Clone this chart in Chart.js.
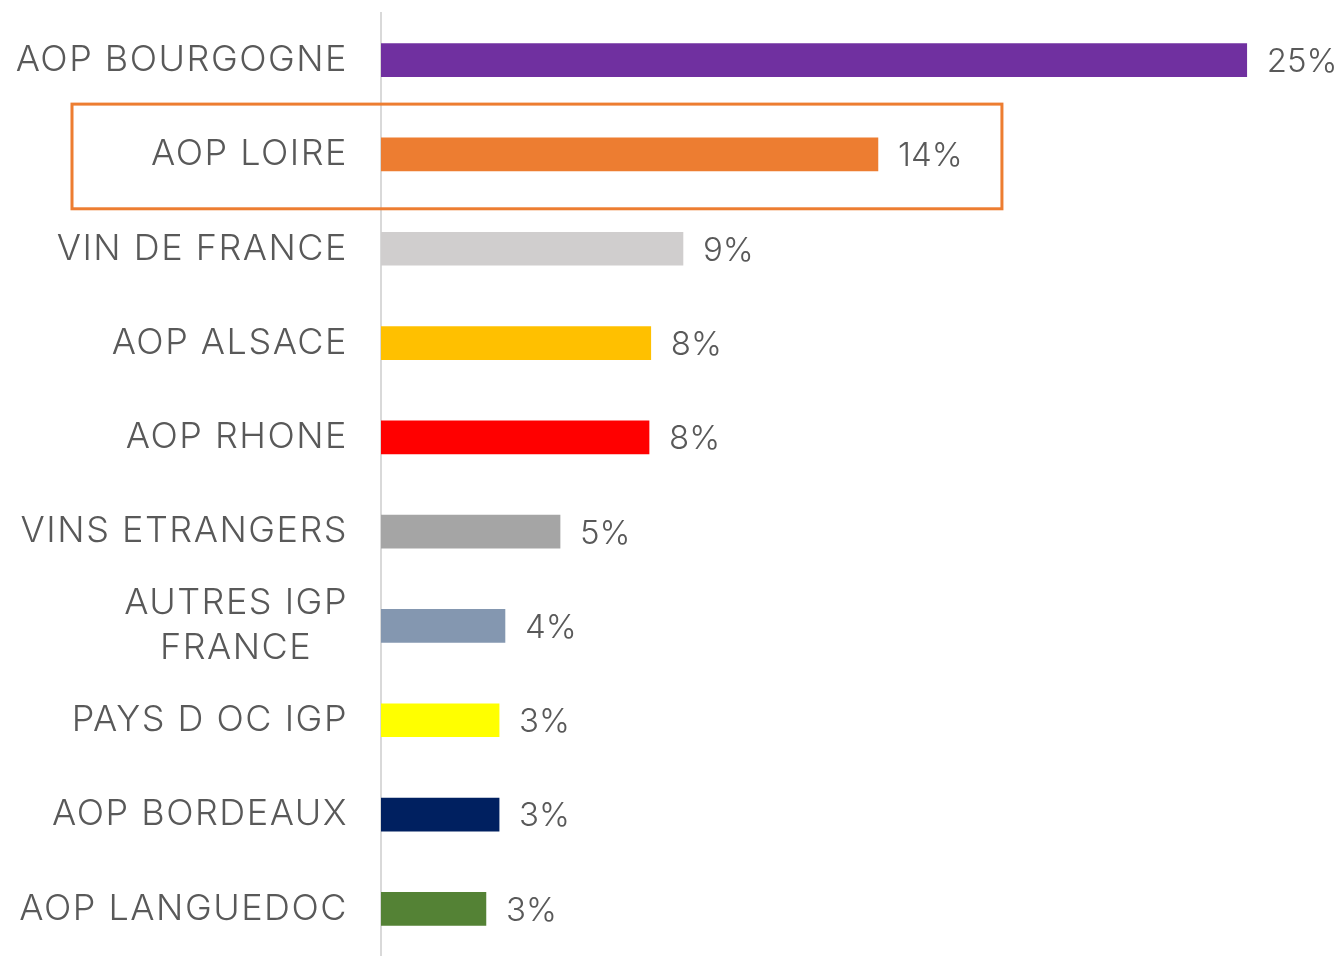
<!DOCTYPE html>
<html>
<head>
<meta charset="utf-8">
<script src="https://cdn.jsdelivr.net/npm/chart.js@4"></script>
<style>
  html, body { margin: 0; padding: 0; background: #fff; }
  #wrap { width: 1341px; height: 956px; }
</style>
</head>
<body>
<div id="wrap"><canvas id="chart"></canvas></div>
<script>
const categories = [
  "AOP BOURGOGNE", "AOP LOIRE", "VIN DE FRANCE", "AOP ALSACE", "AOP RHONE",
  "VINS ETRANGERS", ["AUTRES IGP", "FRANCE"], "PAYS D OC IGP", "AOP BORDEAUX", "AOP LANGUEDOC"
];
const shares = [25, 14.35, 8.72, 7.79, 7.74, 5.17, 3.58, 3.41, 3.41, 3.03];
const barColors = [
  "#7030a0", "#ed7d31", "#d0cece", "#ffc000", "#ff0000",
  "#a5a5a5", "#8497b0", "#ffff00", "#002060", "#548235"
];
const highlighted = 1; // AOP LOIRE

const CAT_FONT = "300 36px Inter, 'Noto Sans', sans-serif";
const VAL_FONT = "300 33px Inter, 'Noto Sans', sans-serif";
const TEXT = "#595959";

// category labels, multi-line ones centred on their own block
const catLabels = {
  id: "catLabels",
  afterDraw(chart) {
    const { ctx } = chart;
    const y = chart.scales.y;
    const right = y.right - 33;
    ctx.save();
    ctx.font = CAT_FONT;
    ctx.letterSpacing = "1.5px";
    ctx.fillStyle = TEXT;
    ctx.textBaseline = "middle";
    ctx.textAlign = "center";
    categories.forEach((c, i) => {
      const lines = Array.isArray(c) ? c : [c];
      const w = Math.max(...lines.map((l) => ctx.measureText(l).width));
      const cy = y.getPixelForValue(i);
      const lh = 45;
      lines.forEach((l, k) => {
        ctx.fillText(l, right - w / 2, cy + (k - (lines.length - 1) / 2) * lh);
      });
    });
    ctx.restore();
  },
};

const valueLabels = {
  id: "valueLabels",
  afterDatasetsDraw(chart) {
    const { ctx } = chart;
    const meta = chart.getDatasetMeta(0);
    ctx.save();
    ctx.font = VAL_FONT;
    ctx.fillStyle = TEXT;
    ctx.textBaseline = "middle";
    ctx.textAlign = "left";
    meta.data.forEach((bar, i) => {
      ctx.fillText(Math.round(shares[i]) + "%", bar.x + 20, bar.y + 2);
    });
    ctx.restore();
  },
};

// orange frame round the highlighted row
const frame = {
  id: "frame",
  afterDraw(chart) {
    const { ctx } = chart;
    const y = chart.scales.y;
    const x = chart.scales.x;
    const cy = y.getPixelForValue(highlighted);
    const half = (y.getPixelForValue(1) - y.getPixelForValue(0)) * 0.555;
    const right = x.getPixelForValue(shares[highlighted]) + 124;
    ctx.save();
    ctx.strokeStyle = "#ed7d31";
    ctx.lineWidth = 3;
    ctx.strokeRect(72, cy - half + 2, right - 72, half * 2);
    ctx.restore();
  },
};

new Chart(document.getElementById("chart"), {
  type: "bar",
  data: {
    labels: categories,
    datasets: [{
      data: shares,
      backgroundColor: barColors,
      barThickness: 33,
      borderWidth: 0,
    }],
  },
  options: {
    indexAxis: "y",
    responsive: true,
    maintainAspectRatio: false,
    animation: false,
    layout: { padding: { top: 13, right: 25, bottom: -3, left: 0 } },
    plugins: { legend: { display: false }, tooltip: { enabled: false } },
    scales: {
      x: { display: false, min: 0, max: 27 },
      y: {
        grid: { display: false, drawTicks: false },
        border: { display: true, color: "#d9d9d9", width: 2 },
        ticks: { display: false },
        afterFit(scale) { scale.width = 381; },
      },
    },
  },
  plugins: [catLabels, valueLabels, frame],
});
</script>
</body>
</html>
